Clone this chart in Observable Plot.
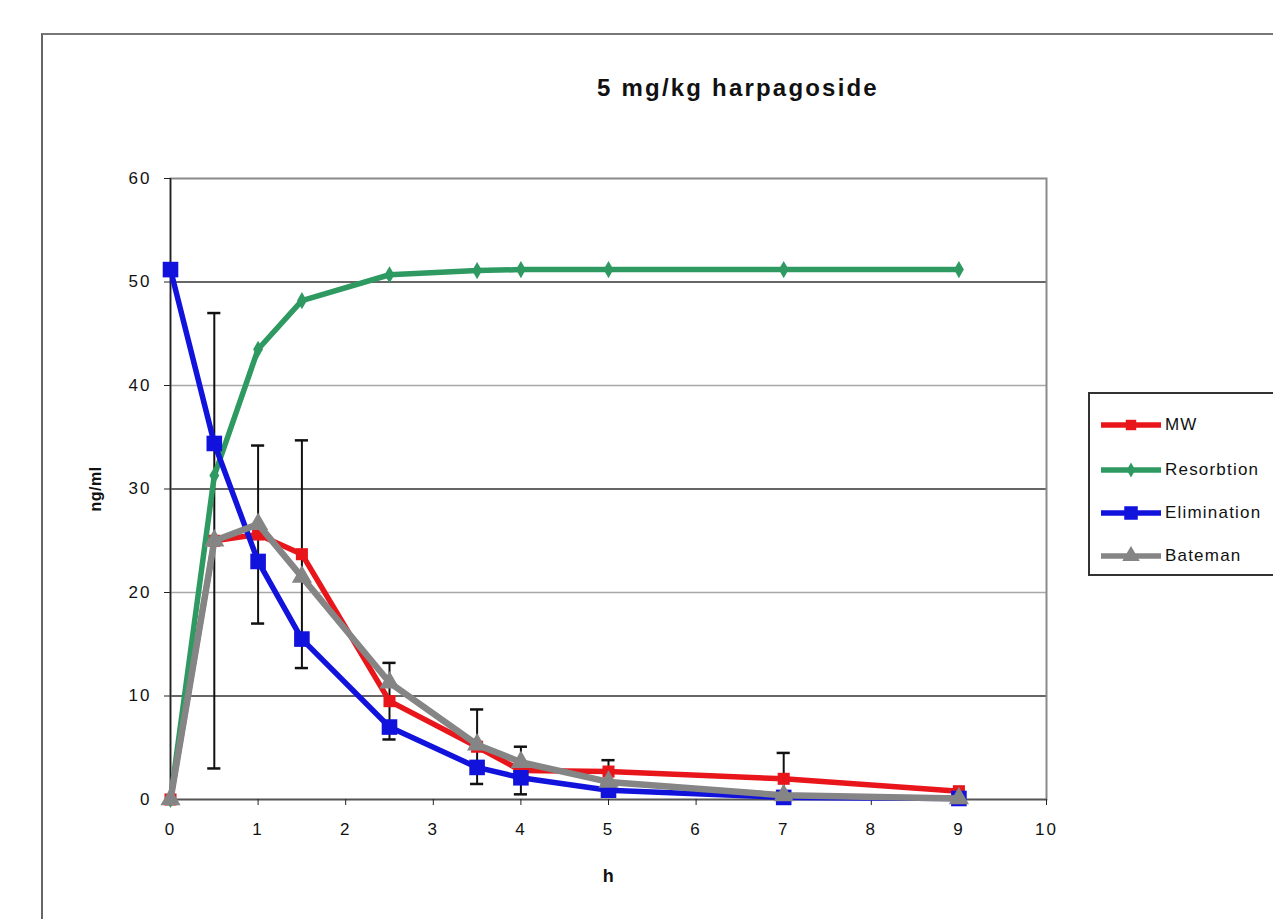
<!DOCTYPE html>
<html>
<head>
<meta charset="utf-8">
<script src="https://cdn.jsdelivr.net/npm/d3@7"></script>
<script src="https://cdn.jsdelivr.net/npm/@observablehq/plot@0.6"></script>
<style>
  html, body { margin: 0; padding: 0; background: #fff; }
  #wrap { position: relative; width: 1273px; height: 919px; overflow: hidden; font-family: "Liberation Sans", Arial, sans-serif; }
  #outer { position: absolute; left: 41px; top: 33px; width: 1400px; height: 1000px; border-left: 2px solid #666; border-top: 2px solid #777; box-sizing: border-box; }
  #title { position: absolute; left: 0; width: 1476px; top: 74px; text-align: center; font-weight: bold; font-size: 24px; letter-spacing: 2.2px; color: #111; }
  #legend { position: absolute; left: 1088px; top: 392px; width: 300px; height: 184px; border: 2px solid #333; box-sizing: border-box; background: #fff; }
  .item { position: absolute; left: 10px; height: 20px; display: flex; align-items: center; font-size: 17px; letter-spacing: 1.2px; color: #111; }
  .item svg { margin-right: 3px; }
  #chart { position: absolute; left: 0; top: 0; }
  #chart svg g[aria-label="text"] text { letter-spacing: 0.5px; }
  #chart svg g[aria-label$="tick label"] text { letter-spacing: 2px; fill: #111; }
</style>
</head>
<body>
<div id="wrap">
  <div id="outer"></div>
  <div id="chart"></div>
  <div id="title">5 mg/kg harpagoside</div>
  <div id="legend"></div>
</div>
<script>
// Time points (h)
const hours = [0, 0.5, 1, 1.5, 2.5, 3.5, 4, 5, 7, 9];
// Series values (ng/ml)
const mw          = [0, 25.0, 25.6, 23.7, 9.5, 5.1, 2.8, 2.7, 2.0, 0.8];
const mwError     = [0, 22.0, 8.6, 11.0, 3.7, 3.6, 2.3, 1.1, 2.5, 0];
const resorbtion  = [0, 31.3, 43.5, 48.2, 50.7, 51.1, 51.2, 51.2, 51.2, 51.2];
const elimination = [51.2, 34.4, 23.0, 15.5, 7.0, 3.1, 2.1, 0.9, 0.2, 0.1];
const bateman     = [0, 25.0, 26.6, 21.5, 11.3, 5.3, 3.6, 1.7, 0.4, 0.1];
// Series names and tick labels
const seriesNames = ["MW", "Resorbtion", "Elimination", "Bateman"];
const xTicks = [0, 1, 2, 3, 4, 5, 6, 7, 8, 9, 10];
const yTicks = [0, 10, 20, 30, 40, 50, 60];

const styles = {
  "MW":          {color: "#e8161b", symbol: "square",   r: 6.8, w: 5.5},
  "Resorbtion":  {color: "#2e9a62", symbol: "diamond",  r: 5.2, w: 5.5},
  "Elimination": {color: "#1212dd", symbol: "square",   r: 8.8, w: 5.5},
  "Bateman":     {color: "#858585", symbol: "triangle", r: 7.5, w: 6.5}
};

const valuesBySeries = {"MW": mw, "Resorbtion": resorbtion, "Elimination": elimination, "Bateman": bateman};
const rows = seriesNames.flatMap(s => hours.map((h, i) => ({series: s, h, v: valuesBySeries[s][i]})));
const errRows = hours.map((h, i) => ({h, v: mw[i], e: mwError[i]})).filter(d => d.e > 0);
const capHalf = 0.075;

const marks = [
  Plot.ruleY([20, 40], {stroke: "#a8a8a8", strokeWidth: 1.5}),
  Plot.ruleY([10, 30, 50], {stroke: "#333", strokeWidth: 1.5}),
  Plot.frame({stroke: "#8a8a8a", strokeWidth: 2}),
  Plot.ruleX([0], {stroke: "#222", strokeWidth: 1.5}),
  Plot.ruleY([0], {stroke: "#555", strokeWidth: 1.5}),
  Plot.axisY({ticks: yTicks, tickSize: 6, tickPadding: 13, fontSize: 17, label: null, stroke: "#222"}),
  Plot.axisX({ticks: xTicks, tickSize: 6, tickPadding: 17, fontSize: 17, label: null, stroke: "#222"}),
  // error bars for MW
  Plot.ruleX(errRows, {x: "h", y1: d => d.v - d.e, y2: d => d.v + d.e, stroke: "#111", strokeWidth: 2}),
  Plot.ruleY(errRows, {y: d => d.v + d.e, x1: d => d.h - capHalf, x2: d => d.h + capHalf, stroke: "#111", strokeWidth: 2.5}),
  Plot.ruleY(errRows, {y: d => Math.max(0, d.v - d.e), x1: d => d.h - capHalf, x2: d => d.h + capHalf, stroke: "#111", strokeWidth: 2.5})
];
for (const s of seriesNames) {
  const st = styles[s];
  const data = rows.filter(d => d.series === s);
  marks.push(Plot.line(data, {x: "h", y: "v", stroke: st.color, strokeWidth: st.w, strokeLinejoin: "round"}));
  marks.push(Plot.dot(data, {x: "h", y: "v", fill: st.color, symbol: () => st.symbol, r: st.r, stroke: "none"}));
}
marks.push(Plot.text(["ng/ml"], {frameAnchor: "left", textAnchor: "middle", dx: -75, rotate: -90, fontSize: 16, fontWeight: "bold", fill: "#111"}));
marks.push(Plot.text(["h"], {frameAnchor: "bottom", dy: 82, fontSize: 18, fontWeight: "bold", fill: "#111"}));

const chart = Plot.plot({
  width: 1273,
  height: 919,
  marginLeft: 170,
  marginRight: 227,
  marginTop: 178,
  marginBottom: 120,
  style: {fontFamily: "Liberation Sans, Arial, sans-serif", color: "#111", background: "transparent"},
  x: {domain: [0, 10]},
  y: {domain: [0, 60]},
  symbol: {type: "identity"},
  marks
});
document.getElementById("chart").appendChild(chart);

// legend
const legend = document.getElementById("legend");
const itemTops = [33, 78, 121, 164];
seriesNames.forEach((s, i) => {
  const st = styles[s];
  const div = document.createElement("div");
  div.className = "item";
  div.style.top = (itemTops[i] - 10 - 2) + "px";
  const sym = d3.symbol().type(
    st.symbol === "square" ? d3.symbolSquare : st.symbol === "diamond" ? d3.symbolDiamond : d3.symbolTriangle
  ).size(Math.PI * st.r * st.r * 0.75)();
  div.innerHTML = `<svg width="62" height="20"><line x1="1" x2="61" y1="10" y2="10" stroke="${st.color}" stroke-width="5.5"/><path d="${sym}" transform="translate(31,10)" fill="${st.color}"/></svg><span>${s}</span>`;
  legend.appendChild(div);
});
</script>
</body>
</html>
